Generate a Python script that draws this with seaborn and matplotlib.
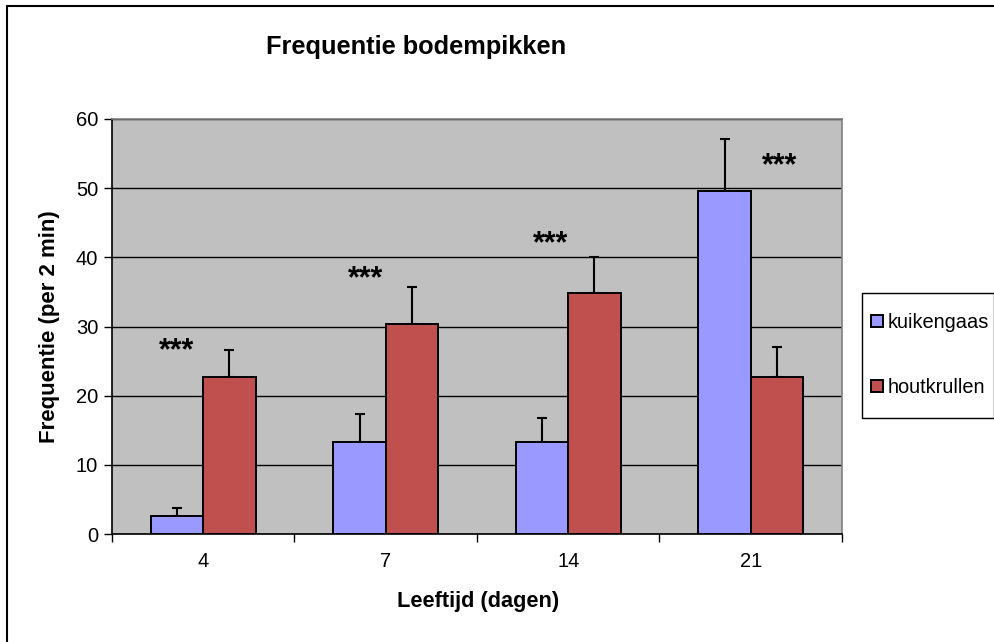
import matplotlib
matplotlib.use("Agg")
import matplotlib.pyplot as plt
import pandas as pd
import seaborn as sns
from matplotlib.lines import Line2D
from matplotlib.patches import Rectangle

leeftijd = ["4", "7", "14", "21"]
bodem = ["kuikengaas", "houtkrullen"]
kuikengaas = [2.6, 13.3, 13.3, 49.6]
kuikengaas_err = [1.2, 4.0, 3.4, 7.5]
houtkrullen = [22.7, 30.3, 34.9, 22.7]
houtkrullen_err = [3.9, 5.4, 5.1, 4.4]
# positie van de sterretjes (offset t.o.v. categorie, hoogte)
ster_dx = [-0.148, -0.108, -0.099, 0.16]
ster_y = [26.4, 36.9, 41.9, 53.1]

df = pd.DataFrame({
    "leeftijd": leeftijd * 2,
    "freq": kuikengaas + houtkrullen,
    "bodem": [bodem[0]] * 4 + [bodem[1]] * 4,
})
errs = [kuikengaas_err, houtkrullen_err]

sns.set_style("white", {"text.color": "black", "axes.labelcolor": "black",
                        "xtick.color": "black", "ytick.color": "black"})
plt.rcParams["font.family"] = ["Liberation Sans", "DejaVu Sans"]

fig = plt.figure(figsize=(9.95, 6.42), dpi=100)
ax = fig.add_axes([112 / 995, 108 / 642, 730 / 995, 415 / 642])
ax.set_facecolor("#C0C0C0")

sns.barplot(
    data=df, x="leeftijd", y="freq", hue="bodem", order=leeftijd, hue_order=bodem,
    palette=["#9999FF", "#C0504D"], saturation=1, width=0.575, gap=0, errorbar=None,
    edgecolor="black", linewidth=1.4, ax=ax, zorder=3,
)

for cont, err in zip(ax.containers, errs):
    xs = [b.get_x() + b.get_width() / 2 for b in cont]
    hs = [b.get_height() for b in cont]
    ax.errorbar(xs, hs, yerr=[[0] * len(err), err], fmt="none", ecolor="black",
                elinewidth=1.5, capsize=3.6, capthick=1.5, zorder=2)

for i, (dx, y) in enumerate(zip(ster_dx, ster_y)):
    ax.text(i + dx, y, "***", ha="center", va="center", fontsize=22, fontweight="bold", zorder=4)

ax.set_ylim(0, 60)
ax.set_xlim(-0.5, len(leeftijd) - 0.5)
ax.set_yticks(range(0, 61, 10))
ax.yaxis.grid(True, color="black", linewidth=1.0)
ax.set_axisbelow(True)
ax.tick_params(axis="y", direction="out", length=6, width=1, labelsize=14.5, pad=4, left=True)
ax.tick_params(axis="x", which="major", length=0, labelsize=14.5, pad=13)
ax.set_xticks([i - 0.5 for i in range(len(leeftijd) + 1)], minor=True)
ax.tick_params(axis="x", which="minor", direction="out", length=6, width=1, bottom=True)

for s in ["top", "right"]:
    ax.spines[s].set_color("#808080")
    ax.spines[s].set_linewidth(1.2)
for s in ["left", "bottom"]:
    ax.spines[s].set_color("black")
    ax.spines[s].set_linewidth(1.2)

ax.set_xlabel("Leeftijd (dagen)", fontsize=15.7, fontweight="bold")
ax.xaxis.set_label_coords(0.502, -0.137)
ax.set_ylabel("Frequentie (per 2 min)", fontsize=16, fontweight="bold")
ax.yaxis.set_label_coords(-0.071, 0.5)
fig.text(416 / 995, 1 - 47 / 642, "Frequentie bodempikken", ha="center", va="center",
         fontsize=18.3, fontweight="bold")

handles, labels = ax.get_legend_handles_labels()
ax.legend_.remove()
fig.legend(handles, labels, loc="center left", bbox_to_anchor=(863 / 995, 1 - 355 / 642),
           fontsize=14.4, frameon=False, handlelength=0.6, handleheight=0.6,
           handletextpad=0.25, labelspacing=2.3, borderpad=0.4, borderaxespad=0)
fig.patches.append(Rectangle((862 / 995, 1 - 418 / 642), 132 / 995, 125 / 642,
                             transform=fig.transFigure, fill=False, edgecolor="black", linewidth=1.0))

# kader links en boven
fig.lines.append(Line2D([7 / 995, 1], [1 - 6 / 642, 1 - 6 / 642], transform=fig.transFigure,
                        color="black", linewidth=1.5))
fig.lines.append(Line2D([7 / 995, 7 / 995], [0, 1 - 6 / 642], transform=fig.transFigure,
                        color="black", linewidth=1.5))

fig.savefig("out.png", dpi=100)
